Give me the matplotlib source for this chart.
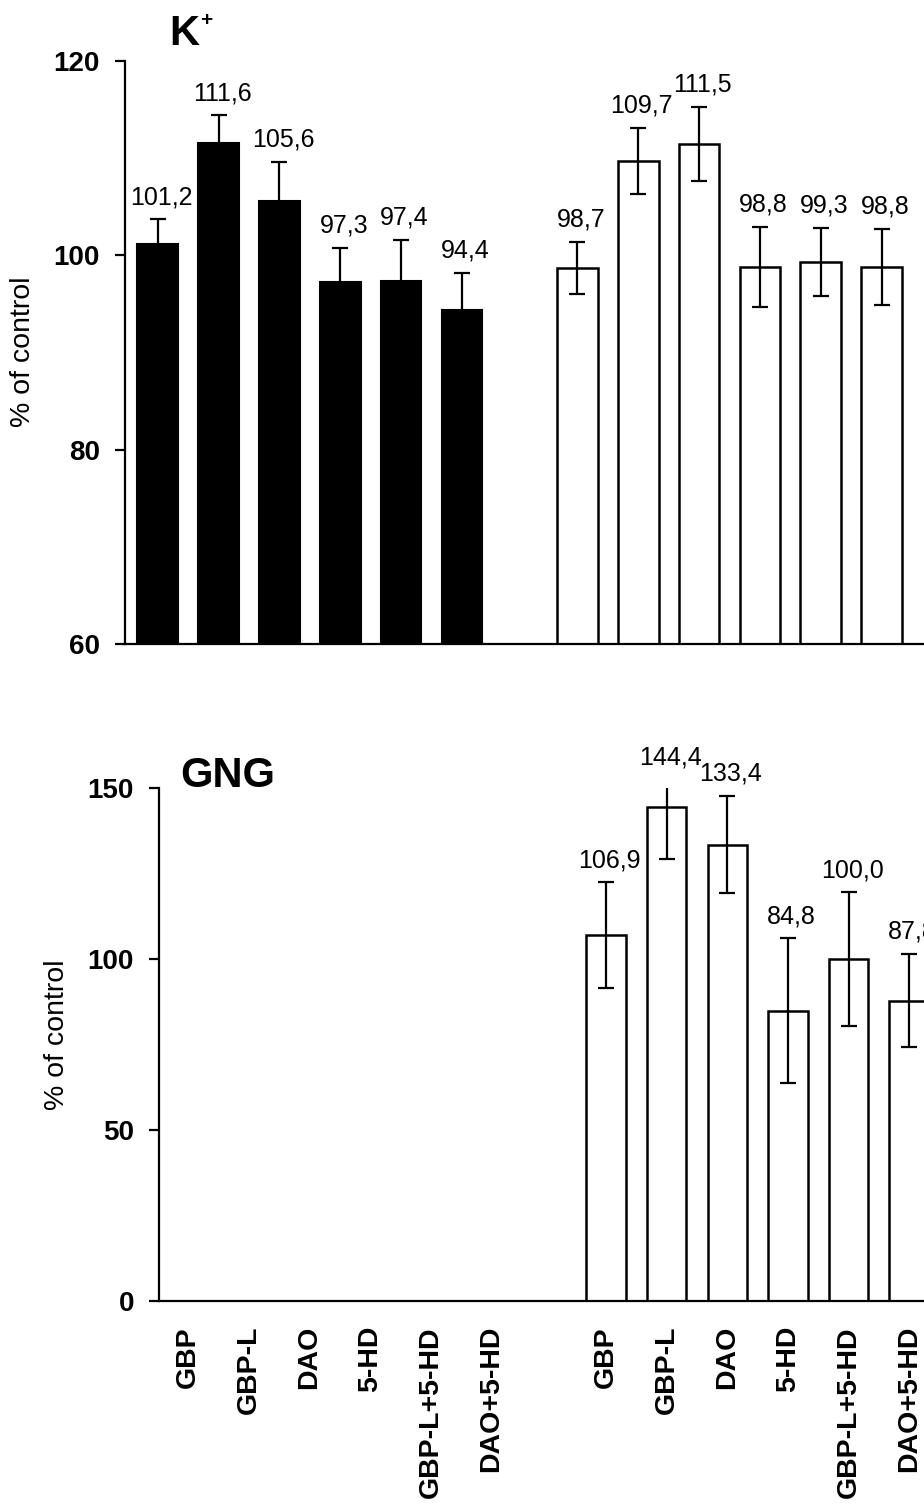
import matplotlib
matplotlib.use("Agg")
import matplotlib.pyplot as plt
import numpy as np

plt.rcParams['font.family'] = ['Liberation Sans', 'DejaVu Sans']

# ---- data ----
labels = ["GBP", "GBP-L", "DAO", "5-HD", "GBP-L+5-HD", "DAO+5-HD"]

k_black = [101.2, 111.6, 105.6, 97.3, 97.4, 94.4]
k_black_err = [2.5, 2.8, 4.0, 3.5, 4.2, 3.8]
k_white = [98.7, 109.7, 111.5, 98.8, 99.3, 98.8]
k_white_err = [2.7, 3.4, 3.8, 4.1, 3.5, 3.9]

gng_white = [106.9, 144.4, 133.4, 84.8, 100.0, 87.8]
gng_white_err = [15.5, 15.2, 14.2, 21.2, 19.5, 13.6]

W, H = 924, 1506
fig = plt.figure(figsize=(W / 100, H / 100), dpi=100)

n = len(labels)
x_left = np.arange(n)
x_right = np.arange(n) + 6.9
bw = 0.67


def fmt(v):
    return f"{v:.1f}".replace(".", ",")


def style_axes(ax, ymin, ymax, ticks):
    ax.set_ylim(ymin, ymax)
    ax.set_yticks(ticks)
    ax.set_yticklabels([str(t) for t in ticks], fontweight='bold', fontsize=20)
    for s in ['top', 'right']:
        ax.spines[s].set_visible(False)
    for s in ['left', 'bottom']:
        ax.spines[s].set_linewidth(1.6)
    ax.tick_params(axis='y', direction='out', length=7, width=1.6, pad=11)


def add_labels(ax, xs, vals, errs, ytop):
    for x, v, e in zip(xs, vals, errs):
        y = min(v + e, ytop)
        ax.annotate(fmt(v), xy=(x, y), xytext=(2.5, 11), textcoords='offset points',
                    ha='center', va='baseline', fontsize=18, annotation_clip=False)


# ---- top panel (K+) ----
ax1 = fig.add_axes([125 / W, 1 - 644 / H, (W - 125) / W, (644 - 61) / H])
ax1.bar(x_left, k_black, bw, color='black', edgecolor='black', linewidth=1.5)
ax1.bar(x_right, k_white, bw, color='white', edgecolor='black', linewidth=1.8)
ax1.errorbar(x_left, k_black, yerr=k_black_err, fmt='none', ecolor='black',
             elinewidth=1.6, capsize=6, capthick=1.6)
ax1.errorbar(x_right, k_white, yerr=k_white_err, fmt='none', ecolor='black',
             elinewidth=1.6, capsize=6, capthick=1.6)
style_axes(ax1, 60, 120, [60, 80, 100, 120])
ax1.set_xlim(-0.54, (W - 158) / 60.8)
ax1.set_xticks([])
add_labels(ax1, x_left, k_black, k_black_err, 120)
add_labels(ax1, x_right, k_white, k_white_err, 120)

fig.text(169 / W, 1 - 45 / H, "K", fontsize=30, fontweight='bold', ha='left', va='baseline')
fig.text(206 / W, 1 - 20 / H, "+", fontsize=15, fontweight='bold', ha='center', va='center')
fig.text(23 / W, 1 - 352 / H, "% of control", fontsize=20.5, rotation=90, ha='center', va='center')

# ---- bottom panel (GNG) ----
ax2 = fig.add_axes([159 / W, 1 - 1301 / H, (W - 159) / W, (1301 - 788) / H])
ax2.bar(x_right, gng_white, bw * 0.97, color='white', edgecolor='black', linewidth=1.8)
ax2.errorbar(x_right, gng_white, yerr=gng_white_err, fmt='none', ecolor='black',
             elinewidth=1.6, capsize=6, capthick=1.6)
style_axes(ax2, 0, 150, [0, 50, 100, 150])
ax2.set_xlim(-0.48, (W - 188) / 60.6)
ax2.set_xticks(list(x_left) + list(x_right))
ax2.set_xticklabels(labels + labels, rotation=90, fontweight='bold', fontsize=20.5,
                    va='top', ha='center')
ax2.tick_params(axis='x', length=0, pad=18)
add_labels(ax2, x_right, gng_white, gng_white_err, 152.5)

fig.text(180 / W, 1 - 787 / H, "GNG", fontsize=30, fontweight='bold', ha='left', va='baseline')
fig.text(57 / W, 1 - 1035 / H, "% of control", fontsize=20.5, rotation=90, ha='center', va='center')

fig.savefig("out.png", dpi=100)
